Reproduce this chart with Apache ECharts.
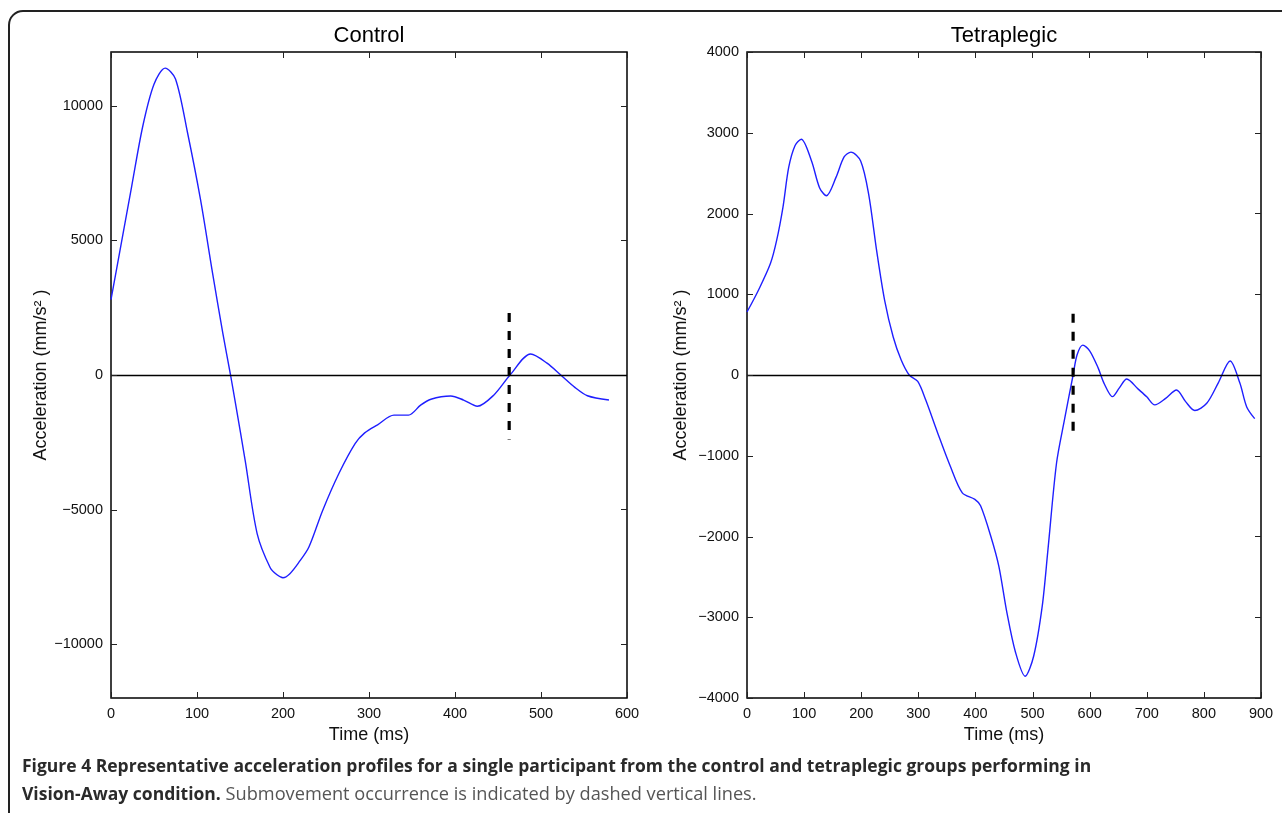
<!DOCTYPE html>
<html>
<head>
<meta charset="utf-8">
<script src="https://cdn.jsdelivr.net/npm/echarts@6/dist/echarts.min.js"></script>
<style>
html,body{margin:0;padding:0;background:#fff;}
#chart{width:1282px;height:813px;}
</style>
</head>
<body>
<div id="chart"></div>
<script>
// ---- Data ----
const controlTime  = [0, 12, 24, 37, 50, 63, 75, 89, 104, 118, 130, 139, 145, 156, 170, 185, 193, 200, 208, 218, 230, 246, 265, 284, 295, 310, 329, 346, 360, 372, 395, 410, 426, 445, 464, 488, 507, 523, 539, 554, 579];
const controlAccel = [2800, 4900, 7000, 9250, 10800, 11400, 11000, 9000, 6530, 3800, 1560, 0, -1100, -3170, -5900, -7150, -7420, -7530, -7380, -6980, -6400, -5040, -3660, -2540, -2150, -1850, -1490, -1490, -1120, -900, -780, -930, -1160, -750, 0, 780, 440, 0, -450, -770, -930];

const tetraTime  = [0, 20, 41, 52, 63, 73, 84, 95, 113, 127, 139, 156, 170, 182, 199, 213, 227, 241, 256, 270, 284, 299, 313, 334, 356, 377, 399, 409, 427, 441, 455, 470, 487, 502, 517, 527, 542, 556, 571, 578, 588, 600, 615, 625, 640, 652, 665, 685, 700, 714, 733, 752, 768, 784, 805, 825, 846, 863, 875, 889];
const tetraAccel = [780, 1050, 1380, 1670, 2080, 2570, 2840, 2920, 2650, 2320, 2220, 2450, 2700, 2760, 2650, 2240, 1540, 925, 470, 185, 0, -80, -310, -720, -1130, -1460, -1540, -1620, -2000, -2370, -2940, -3430, -3730, -3480, -2860, -2160, -1090, -550, 0, 250, 370, 300, 85, -100, -268, -160, -50, -175, -270, -370, -290, -185, -330, -440, -350, -100, 173, -100, -395, -540];

// submovement markers: [time, top, bottom]
const controlSubmovement = [463, 2300, -2400];
const tetraSubmovement   = [571, 760, -800];

// axis ticks
const controlXTicks = [0, 100, 200, 300, 400, 500, 600];
const controlYTicks = [-10000, -5000, 0, 5000, 10000];
const tetraXTicks   = [0, 100, 200, 300, 400, 500, 600, 700, 800, 900];
const tetraYTicks   = [-4000, -3000, -2000, -1000, 0, 1000, 2000, 3000, 4000];

const titles = ['Control', 'Tetraplegic'];
const xName = 'Time (ms)';
const yName = 'Acceleration (mm/s\u00B2 )';
const captionBold1 = 'Figure 4 Representative acceleration profiles for a single participant from the control and tetraplegic groups performing in';
const captionBold2 = 'Vision-Away condition.';
const captionRegular = ' Submovement occurrence is indicated by dashed vertical lines.';

// ---- Chart ----
const chart = echarts.init(document.getElementById('chart'));
const FONT = 'Liberation Sans, Arial, sans-serif';
const minusFmt = v => String(v).replace('-', '\u2212');

function pairs(xs, ys){ return xs.map((x, i) => [x, ys[i]]); }

const GRIDS = [
  {left:111, top:52, width:516, height:646},
  {left:747, top:52, width:514, height:646}
];
const TICK_LEN = 6;
const tickStyle = {color:'#222', width:1};
const labelStyle = {show:true, margin:8, color:'#111', fontFamily:FONT, fontSize:14.5, formatter:minusFmt};
const nameStyle = {color:'#111', fontFamily:FONT, fontSize:18};

function tickOnlyAxis(gridIndex, position, min, max, ticks){
  return { type:'value', gridIndex, position, min, max,
    axisLine:{show:false, onZero:false}, splitLine:{show:false},
    axisTick:{show:true, inside:true, length:TICK_LEN, lineStyle:tickStyle, customValues:ticks},
    axisLabel:{show:false} };
}

function xAxes(gridIndex, max, ticks){
  return [
    { type:'value', gridIndex, position:'bottom', min:0, max, interval:100,
      axisLine:{show:false, onZero:false}, splitLine:{show:false},
      axisTick:{show:false},
      axisLabel:labelStyle,
      name:xName, nameLocation:'middle', nameGap:27, nameTextStyle:nameStyle },
    tickOnlyAxis(gridIndex, 'top', 0, max, ticks)
  ];
}
function yAxes(gridIndex, min, max, ticks, nameGap, step){
  const ax = { type:'value', gridIndex, position:'left', min, max,
      axisLine:{show:false, onZero:false}, splitLine:{show:false},
      axisTick:{show:false},
      axisLabel:Object.assign({}, labelStyle),
      name:yName, nameLocation:'middle', nameGap, nameRotate:90, nameTextStyle:nameStyle };
  if (min % step === 0) {
    ax.interval = step;
  } else {
    ax.splitNumber = Math.round((max - min) / step);
    ax.axisLabel.showMinLabel = false;
    ax.axisLabel.showMaxLabel = false;
  }
  return [ax, tickOnlyAxis(gridIndex, 'right', min, max, ticks)];
}

function curve(xi, yi, data){
  return { type:'line', xAxisIndex:xi, yAxisIndex:yi, data, smooth:0.3, showSymbol:false, symbol:'none',
    lineStyle:{color:'#1f1fff', width:1.4}, z:3,
    markLine:{ silent:true, symbol:['none','none'], label:{show:false},
      lineStyle:{color:'#000', type:'solid', width:1.3}, data:[{yAxis:0}], animation:false } };
}
function marker(xi, yi, m){
  return { type:'line', xAxisIndex:xi, yAxisIndex:yi, data:[[m[0], m[1]],[m[0], m[2]]],
    showSymbol:false, symbol:'none', z:4,
    lineStyle:{color:'#000', width:3.2, type:[9,9]} };
}

// inner ticks on the bottom and left edges (drawn as graphic lines along the grid edges)
const panels = [
  {grid:GRIDS[0], xRange:[0, 600], yRange:[-12000, 12000], xTicks:controlXTicks, yTicks:controlYTicks},
  {grid:GRIDS[1], xRange:[0, 900], yRange:[-4000, 4000],   xTicks:tetraXTicks,   yTicks:tetraYTicks}
];
const tickGraphic = [];
panels.forEach((p, pi) => {
  const g = p.grid;
  const bottom = g.top + g.height;
  p.xTicks.forEach((t, i) => {
    const px = Math.round(g.left + (t - p.xRange[0]) / (p.xRange[1] - p.xRange[0]) * g.width) + 0.5;
    tickGraphic.push({ id:'bt' + pi + '_' + i, type:'line', z:100, silent:true,
      shape:{x1:px, y1:bottom, x2:px, y2:bottom - TICK_LEN},
      style:{stroke:'#222', lineWidth:1} });
  });
  p.yTicks.forEach((v, i) => {
    const py = Math.round(bottom - (v - p.yRange[0]) / (p.yRange[1] - p.yRange[0]) * g.height) + 0.5;
    tickGraphic.push({ id:'lt' + pi + '_' + i, type:'line', z:100, silent:true,
      shape:{x1:g.left, y1:py, x2:g.left + TICK_LEN, y2:py},
      style:{stroke:'#222', lineWidth:1} });
  });
});

const baseGraphic = [
  { id:'frame', type:'rect', z:-1, shape:{x:9, y:11, width:1320, height:860, r:14},
    style:{fill:'none', stroke:'#222', lineWidth:2} },
  { id:'title0', type:'text', x:369, y:36, style:{text:titles[0], align:'center', verticalAlign:'middle', font:'22px ' + FONT, fill:'#000'} },
  { id:'title1', type:'text', x:1004, y:36, style:{text:titles[1], align:'center', verticalAlign:'middle', font:'22px ' + FONT, fill:'#000'} },
  { id:'caption', type:'text', x:22, y:753,
    style:{
      text:'{b|' + captionBold1 + '}\n{b|' + captionBold2 + '}{r|' + captionRegular + '}',
      verticalAlign:'top', align:'left',
      rich:{
        b:{fontFamily:'Open Sans', fontWeight:'bold', fontSize:17.5, fill:'#2a2a2a', lineHeight:28},
        r:{fontFamily:'Open Sans', fontWeight:'normal', fontSize:18.2, fill:'#555', lineHeight:28}
      }
    } }
];

const option = {
  animation:false,
  backgroundColor:'#fff',
  grid:GRIDS.map(g => Object.assign({show:true, borderColor:'#000', borderWidth:1.5, backgroundColor:'transparent'}, g)),
  // xAxis/yAxis: 0..1 control, 2..3 tetraplegic
  xAxis:[...xAxes(0, 600, controlXTicks), ...xAxes(1, 900, tetraXTicks)],
  yAxis:[...yAxes(0, -12000, 12000, controlYTicks, 60, 5000), ...yAxes(1, -4000, 4000, tetraYTicks, 57, 1000)],
  series:[
    curve(0, 0, pairs(controlTime, controlAccel)),
    marker(0, 0, controlSubmovement),
    curve(2, 2, pairs(tetraTime, tetraAccel)),
    marker(2, 2, tetraSubmovement)
  ],
  graphic: baseGraphic.concat(tickGraphic)
};
chart.setOption(option);
</script>
</body>
</html>
